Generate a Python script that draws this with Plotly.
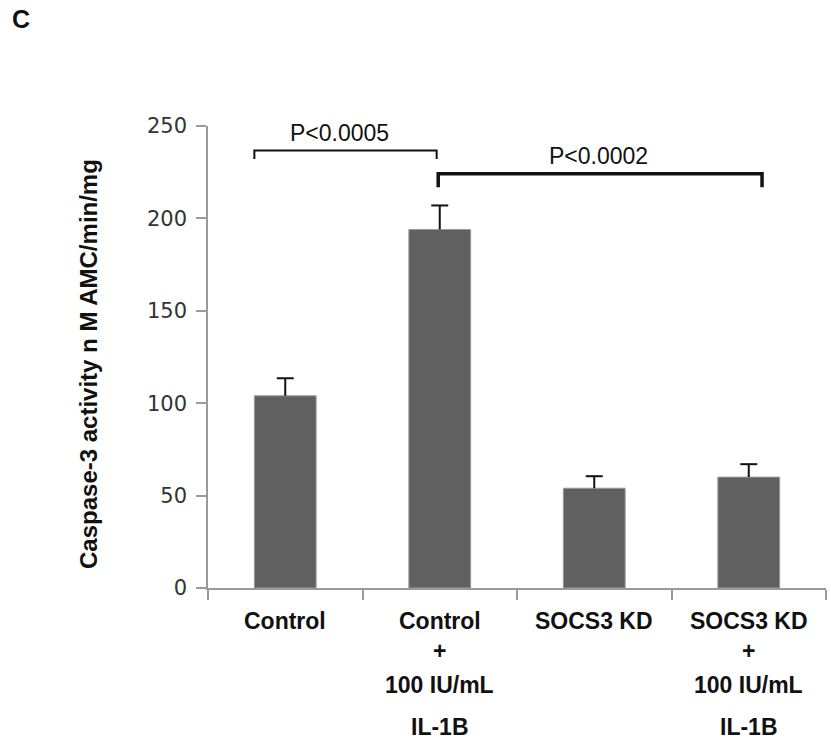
import plotly.graph_objects as go

# Caspase-3 activity per condition (nM AMC/min/mg), mean and SEM
categories = ["Control", "Control + 100 IU/mL IL-1B", "SOCS3 KD", "SOCS3 KD + 100 IU/mL IL-1B"]
label_lines = [
    ["Control"],
    ["Control", "+", "100 IU/mL", "IL-1B"],
    ["SOCS3 KD"],
    ["SOCS3 KD", "+", "100 IU/mL", "IL-1B"],
]
means = [104, 194, 54, 60]
errors = [9.5, 13, 6.5, 7]
y_ticks = [0, 50, 100, 150, 200, 250]

# significance brackets: (left x index, right x index, bar height, drop height, label, label x, label y, line width)
brackets = [
    (-0.2, 0.98, 236.7, 232.2, "P<0.0005", 0.354, 246.0, 2),
    (0.99, 3.086, 224.1, 216.9, "P<0.0002", 2.03, 234.0, 3.5),
]

W, H = 831, 742
L, R, T, B = 208, 5, 126, 154
plot_w = W - L - R
plot_h = H - T - B
cap_half = 8.5 / (plot_w / len(categories))  # half cap width in category units

fig = go.Figure()
fig.add_trace(go.Bar(
    x=list(range(len(categories))),
    y=means,
    marker=dict(color="#606060", line=dict(color="#9a9a9a", width=1)),
    width=0.4,
    hovertext=categories,
    showlegend=False,
))

# upper-only error bars: stem from the bar top plus a cap
ex, ey = [], []
for i, (m, e) in enumerate(zip(means, errors)):
    ex += [i, i, None, i - cap_half, i + cap_half, None]
    ey += [m, m + e, None, m + e, m + e, None]
fig.add_trace(go.Scatter(x=ex, y=ey, mode="lines",
                         line=dict(color="#111111", width=2),
                         hoverinfo="skip", showlegend=False))

for x0, x1, yb, yd, txt, tx, ty, lw in brackets:
    fig.add_shape(type="path",
                  path=f"M {x0} {yd} L {x0} {yb} L {x1} {yb} L {x1} {yd}",
                  xref="x", yref="y", line=dict(color="#111111", width=lw))
    fig.add_annotation(x=tx, y=ty, xref="x", yref="y", text=txt, showarrow=False,
                       xanchor="center", yanchor="middle",
                       font=dict(family="Liberation Sans, Arial", size=23, color="#111111"))

# multi-line category labels below the axis
line_px = [621, 651, 685, 727]
for i, lines in enumerate(label_lines):
    for j, ln in enumerate(lines):
        fig.add_annotation(x=i, y=(plot_h - (line_px[j] - T)) / plot_h,
                           xref="x", yref="paper", text=f"<b>{ln}</b>",
                           showarrow=False, xanchor="center", yanchor="middle",
                           font=dict(family="Liberation Sans, Arial", size=23, color="#111111"))

# y-axis title
fig.add_annotation(x=(88 - L) / plot_w, y=(plot_h - (364 - T)) / plot_h,
                   xref="paper", yref="paper", textangle=-90,
                   text="<b>Caspase-3 activity n M AMC/min/mg</b>", showarrow=False,
                   xanchor="center", yanchor="middle",
                   font=dict(family="Liberation Sans, Arial", size=24, color="#111111"))

# panel letter
fig.add_annotation(x=(10 - L) / plot_w, y=(plot_h - (19 - T)) / plot_h,
                   xref="paper", yref="paper", text="<b>C</b>",
                   showarrow=False, xanchor="left", yanchor="middle",
                   font=dict(family="Liberation Sans, Arial", size=25, color="#111111"))

fig.update_layout(
    width=W, height=H,
    margin=dict(l=L, r=R, t=T, b=B, pad=0),
    paper_bgcolor="white", plot_bgcolor="white",
    xaxis=dict(
        range=[-0.5, 3.5], tickmode="array", tickvals=[-0.5, 0.5, 1.5, 2.5, 3.5],
        showticklabels=False, ticks="outside", ticklen=10, tickcolor="#9a9a9a",
        tickwidth=1.5, showline=True, linecolor="#9a9a9a", linewidth=1.5,
        showgrid=False, zeroline=False,
    ),
    yaxis=dict(
        range=[0, 250], tickmode="array", tickvals=y_ticks,
        ticks="outside", ticklen=10, tickcolor="#9a9a9a", tickwidth=1.5,
        showline=True, linecolor="#9a9a9a", linewidth=1.5,
        showgrid=False, zeroline=False, ticklabelstandoff=5,
        tickfont=dict(family="DejaVu Sans", size=21, color="#333333"),
    ),
)

fig.write_html("out.html")
